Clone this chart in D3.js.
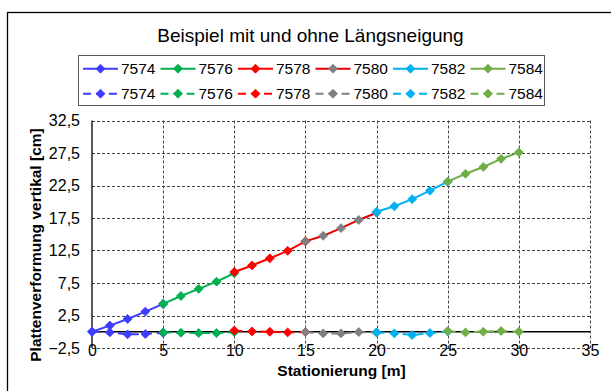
<!DOCTYPE html>
<html>
<head>
<meta charset="utf-8">
<script src="https://cdn.jsdelivr.net/npm/d3@7"></script>
<style>
  html, body { margin: 0; padding: 0; background: #fff; }
  svg { display: block; font-family: "Liberation Sans", Arial, sans-serif; }
</style>
</head>
<body>
<svg id="chart" width="611" height="391"></svg>
<script>
// ---- data ----
const chartTitle = "Beispiel mit und ohne Längsneigung";
const xTitle = "Stationierung [m]";
const yTitle = "Plattenverformung vertikal [cm]";
const seriesNames = ["7574", "7576", "7578", "7580", "7582", "7584"];
const seriesColors = ["#3D3DFF", "#00B050", "#FF0000", "#808080", "#00B0F0", "#70AD47"];
const solidLineColors = ["#3D3DFF", "#00B050", "#FF0000", "#E00000", "#00B0F0", "#70AD47"];
const stations = [
  [0, 1.25, 2.5, 3.75, 5],
  [5, 6.25, 7.5, 8.75, 10],
  [10, 11.25, 12.5, 13.75, 15],
  [15, 16.25, 17.5, 18.75, 20],
  [20, 21.25, 22.5, 23.75, 25],
  [25, 26.25, 27.5, 28.75, 30]
];
// with slope (solid)
const withSlope = [
  [0, 0.95, 1.97, 3.1, 4.28],
  [4.28, 5.5, 6.6, 7.7, 9.0],
  [9.2, 10.2, 11.3, 12.45, 13.9],
  [13.9, 14.76, 15.94, 17.2, 18.3],
  [18.46, 19.3, 20.4, 21.7, 23.08],
  [23.1, 24.3, 25.35, 26.6, 27.6]
];
// without slope (dashed)
const withoutSlope = [
  [0, -0.1, -0.4, -0.35, -0.18],
  [-0.1, -0.15, -0.2, -0.2, -0.05],
  [0.18, 0.05, 0, -0.1, -0.05],
  [-0.05, -0.25, -0.25, -0.05, -0.1],
  [-0.1, -0.25, -0.5, -0.2, 0.05],
  [0.1, -0.1, 0, 0.12, 0]
];
const xTicks = [0, 5, 10, 15, 20, 25, 30, 35];
const yTicks = [-2.5, 2.5, 7.5, 12.5, 17.5, 22.5, 27.5, 32.5];

// ---- layout ----
const svg = d3.select("#chart");
const x = d3.scaleLinear().domain([0, 35]).range([92, 590]);
const y = d3.scaleLinear().domain([-2.5, 32.5]).range([348, 120.5]);
const fmt = v => d3.format(".1f")(v).replace(".", ",");

// outer chart border
svg.append("rect").attr("x", 7.5).attr("y", 12.5).attr("width", 640).attr("height", 400)
  .attr("fill", "#fff").attr("stroke", "#000").attr("stroke-width", 1.3);

// title
svg.append("text").attr("x", 310.5).attr("y", 42).attr("text-anchor", "middle")
  .attr("font-size", 19).attr("fill", "#000").text(chartTitle);

// gridlines
const grid = svg.append("g");
grid.selectAll("line.h").data(yTicks).join("line")
  .attr("x1", x(0)).attr("x2", x(35))
  .attr("y1", d => Math.round(y(d)) + 0.5).attr("y2", d => Math.round(y(d)) + 0.5)
  .attr("stroke", "#444").attr("stroke-width", 1).attr("stroke-dasharray", "3,2");
grid.selectAll("line.v").data(xTicks.filter(d => d > 0)).join("line")
  .attr("y1", y(32.5)).attr("y2", y(-2.5))
  .attr("x1", d => Math.round(x(d)) + 0.5).attr("x2", d => Math.round(x(d)) + 0.5)
  .attr("stroke", "#444").attr("stroke-width", 1).attr("stroke-dasharray", "3,2");

// axes (y axis at x=0, x axis at y=0)
svg.append("line").attr("x1", x(0)).attr("x2", x(0)).attr("y1", y(32.5)).attr("y2", y(-2.5))
  .attr("stroke", "#000").attr("stroke-width", 1.3);
svg.append("line").attr("x1", x(0)).attr("x2", x(35)).attr("y1", y(0)).attr("y2", y(0))
  .attr("stroke", "#000").attr("stroke-width", 1.3);

// tick labels
const yAxis = d3.axisLeft(y).tickValues(yTicks).tickFormat(fmt).tickSize(0).tickPadding(12);
const gy = svg.append("g").attr("transform", `translate(${x(0)},0)`).call(yAxis);
gy.select(".domain").remove();
gy.selectAll("text").attr("font-size", 16).attr("fill", "#000")
  .attr("font-family", "'Liberation Sans', Arial, sans-serif");

const xAxis = d3.axisBottom(x).tickValues(xTicks).tickFormat(d3.format("d")).tickSize(0).tickPadding(0);
const gx = svg.append("g").attr("transform", `translate(0,${y(-2.5)})`).call(xAxis);
gx.select(".domain").remove();
gx.selectAll("text").attr("font-size", 16).attr("fill", "#000").attr("dy", null).attr("y", 8)
  .attr("font-family", "'Liberation Sans', Arial, sans-serif");

// axis titles
svg.append("text").attr("x", 341.5).attr("y", 376).attr("text-anchor", "middle")
  .attr("font-size", 15.5).attr("font-weight", "bold").text(xTitle);
svg.append("text").attr("transform", "translate(40.5,245) rotate(-90)").attr("text-anchor", "middle")
  .attr("font-size", 15.5).attr("font-weight", "bold").text(yTitle);

// series
const line = d3.line().x(d => x(d[0])).y(d => y(d[1]));
const marker = d3.symbol(d3.symbolSquare, 40);
const plot = svg.append("g");

function drawSeries(i, values, dashed) {
  const pts = stations[i].map((s, k) => [s, values[k]]);
  const g = plot.append("g");
  g.append("path").attr("d", line(pts)).attr("fill", "none")
    .attr("stroke", dashed ? seriesColors[i] : solidLineColors[i])
    .attr("stroke-width", 2)
    .attr("stroke-dasharray", dashed ? "8,5" : null);
  g.selectAll("path.m").data(pts).join("path").attr("class", "m")
    .attr("d", marker)
    .attr("transform", d => `translate(${x(d[0])},${y(d[1])}) rotate(45)`)
    .attr("fill", seriesColors[i]).attr("stroke", seriesColors[i]).attr("stroke-width", 0.8);
}
seriesNames.forEach((n, i) => drawSeries(i, withSlope[i], false));
seriesNames.forEach((n, i) => drawSeries(i, withoutSlope[i], true));

// legend
const lg = svg.append("g");
lg.append("rect").attr("x", 78.5).attr("y", 55.5).attr("width", 466).attr("height", 50)
  .attr("fill", "#fff").attr("stroke", "#595959").attr("stroke-width", 1);
[false, true].forEach((dashed, row) => {
  const cy = row === 0 ? 68.7 : 93.7;
  seriesNames.forEach((n, i) => {
    const x0 = 83 + i * 77.5;
    lg.append("line").attr("x1", x0).attr("x2", x0 + 35).attr("y1", cy).attr("y2", cy)
      .attr("stroke", dashed ? seriesColors[i] : solidLineColors[i]).attr("stroke-width", 2)
      .attr("stroke-dasharray", dashed ? "8,5" : null);
    lg.append("path").attr("d", marker)
      .attr("transform", `translate(${x0 + 17.5},${cy}) rotate(45)`)
      .attr("fill", seriesColors[i]).attr("stroke", seriesColors[i]).attr("stroke-width", 0.8);
    lg.append("text").attr("x", x0 + 38).attr("y", cy + 5.7)
      .attr("font-size", 15.5).attr("fill", "#000").text(n);
  });
});
</script>
</body>
</html>
